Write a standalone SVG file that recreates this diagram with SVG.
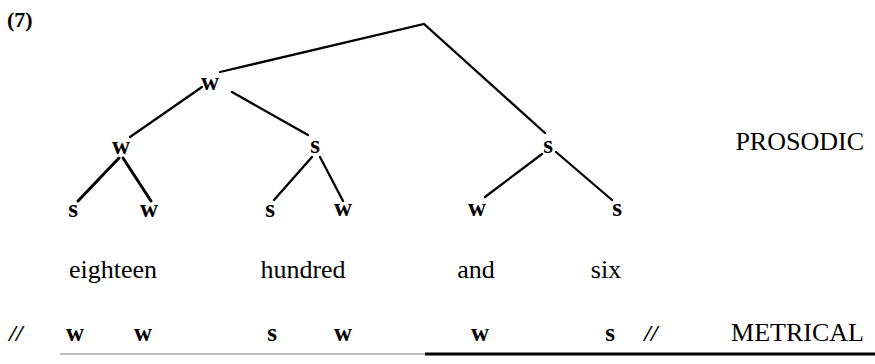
<svg xmlns="http://www.w3.org/2000/svg" width="875" height="364" viewBox="0 0 875 364">
<style>
  text { font-family: 'Liberation Serif', 'Times New Roman', 'DejaVu Serif', serif; fill: #000; }
  .lbl { font-weight: bold; font-size: 25px; text-anchor: middle; }
  .word { font-size: 26px; text-anchor: middle; }
  .cap { font-size: 26px; text-anchor: end; }
  .slash { font-weight: bold; font-style: italic; font-size: 24px; text-anchor: middle; }
  .num { font-weight: bold; font-size: 22px; }
  .edge { stroke: #000; stroke-width: 2.3; fill: none; stroke-linecap: round; }
  .thick { stroke-width: 3; }
</style>
<rect width="875" height="364" fill="#fff"/>
<text class="num" x="7" y="27">(7)</text>

<g id="connectors">
  <polyline class="edge" points="220,72 424,24 545,133"/>
  <line class="edge" x1="202" y1="87" x2="130" y2="137"/>
  <line class="edge" x1="232" y1="92" x2="308" y2="135"/>
  <line class="edge thick" x1="119" y1="158" x2="78" y2="201"/>
  <line class="edge thick" x1="123" y1="158" x2="151" y2="201"/>
  <line class="edge" x1="312" y1="157" x2="274" y2="200"/>
  <line class="edge" x1="320" y1="157" x2="343" y2="201"/>
  <line class="edge" x1="542" y1="154" x2="485" y2="197"/>
  <line class="edge" x1="556" y1="152" x2="612" y2="200"/>
</g>

<g id="n_w1"><text class="lbl" x="210" y="90">w</text></g>
<g id="n_s1"><text class="lbl" x="548" y="153">s</text></g>
<g id="n_w2"><text class="lbl" x="121" y="154">w</text></g>
<g id="n_s2"><text class="lbl" x="315" y="153">s</text></g>
<g id="leaf1"><text class="lbl" x="73" y="217">s</text></g>
<g id="leaf2"><text class="lbl" x="149" y="217">w</text></g>
<g id="leaf3"><text class="lbl" x="270" y="217">s</text></g>
<g id="leaf4"><text class="lbl" x="343" y="216">w</text></g>
<g id="leaf5"><text class="lbl" x="477" y="216">w</text></g>
<g id="leaf6"><text class="lbl" x="617" y="216">s</text></g>

<text class="cap" x="864" y="150">PROSODIC</text>

<g id="words">
  <text class="word" x="113" y="278">eighteen</text>
  <text class="word" x="303" y="278">hundred</text>
  <text class="word" x="476" y="278">and</text>
  <text class="word" x="606" y="278">six</text>
</g>

<g id="metrical">
  <text class="slash" x="16" y="341">//</text>
  <text class="lbl" x="75" y="341">w</text>
  <text class="lbl" x="143" y="341">w</text>
  <text class="lbl" x="272" y="341">s</text>
  <text class="lbl" x="343" y="341">w</text>
  <text class="lbl" x="480" y="341">w</text>
  <text class="lbl" x="610" y="341">s</text>
  <text class="slash" x="651" y="341">//</text>
  <text class="cap" x="864" y="341">METRICAL</text>
</g>

<line x1="60" y1="354" x2="430" y2="354" stroke="#aaa" stroke-width="1.5"/>
<line x1="425" y1="354" x2="875" y2="354" stroke="#000" stroke-width="3"/>
</svg>
